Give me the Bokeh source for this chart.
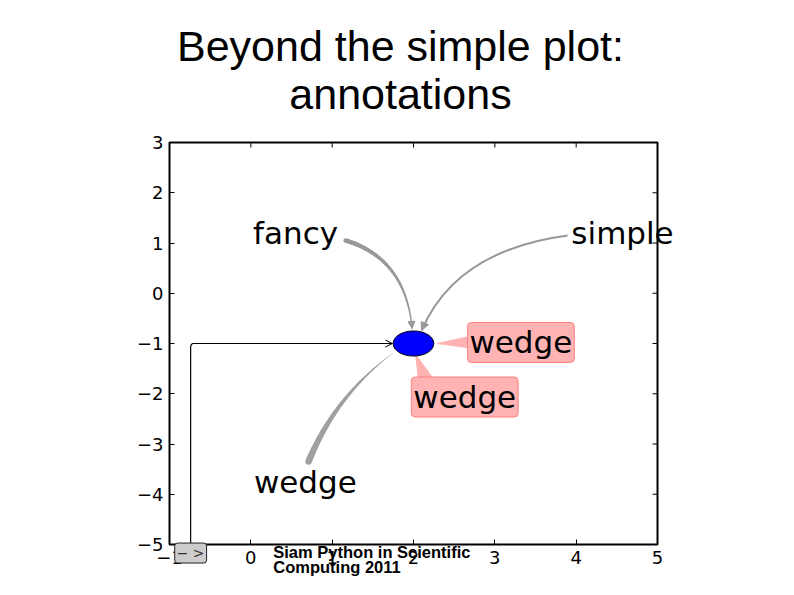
import numpy as np
from bokeh.plotting import figure
from bokeh.models import (Range1d, FixedTicker, Label, Arrow,
                          NormalHead, OpenHead, ColumnDataSource)
from bokeh.embed import file_html
from bokeh.resources import INLINE

# ---------------- data ----------------
x_ticks = [-1, 0, 1, 2, 3, 4, 5]
y_ticks = [-5, -4, -3, -2, -1, 0, 1, 2, 3]
plot_box_x = [-1, 5]
plot_box_y = [-5, 3]

ellipse_x = [2.0]
ellipse_y = [-1.0]
ellipse_w = [0.5]
ellipse_h = [0.5]

plain_labels = ["fancy", "simple", "wedge"]
plain_x = [0.55, 4.57, 0.67]
plain_y = [1.2, 1.2, -3.75]

boxed_labels = ["wedge", "wedge"]
boxed_x = [3.32, 2.63]
boxed_y = [-0.98, -2.065]

angle_label = "\u2212 >"
angle_xy = [-0.74, -5.17]

# arrow paths: start, control, end (data coordinates)
fancy_path = [[1.165, 1.05], [1.903, 0.692], [1.983, -0.70]]
simple_path = [[3.895, 1.149], [2.518, 0.851], [2.100, -0.741]]
wedge_path = [[0.710, -3.348], [1.042, -2.035], [1.743, -1.199]]
wedge_right_x = [2.293, 2.653, 2.653]
wedge_right_y = [-1.0, -0.871, -1.08]
wedge_low_x = [2.026, 2.063, 2.26]
wedge_low_y = [-1.219, -1.736, -1.736]
angle_path_x = [-0.74, -0.74, -0.73, -0.71, 1.74]
angle_path_y = [-5.02, -1.06, -1.015, -1.0, -1.0]

title_lines = ["Beyond the simple plot:", "annotations"]
title_x = 1.84
title_y = [4.93, 3.97]
footer_lines = ["Siam Python in Scientific", "Computing 2011"]
footer_x = 0.276
footer_y = [-5.14, -5.45]

# ---------------- layout (pixels) ----------------
W, H = 778, 579
BOX_L, BOX_R, BOX_T, BOX_B = 169, 657, 142, 544
sx = (BOX_R - BOX_L) / (plot_box_x[1] - plot_box_x[0])
sy = (BOX_B - BOX_T) / (plot_box_y[1] - plot_box_y[0])
x_start = plot_box_x[0] - BOX_L / sx
x_end = plot_box_x[1] + (W - BOX_R) / sx
y_end = plot_box_y[1] + BOX_T / sy
y_start = plot_box_y[0] - (H - BOX_B) / sy

p = figure(width=W, height=H, x_range=Range1d(x_start, x_end),
           y_range=Range1d(y_start, y_end),
           output_backend="svg", toolbar_location=None, min_border=0)
p.grid.visible = False
p.outline_line_color = None
p.background_fill_color = "white"
p.border_fill_color = "white"


def minus(v):
    return str(v).replace("-", "\u2212")


def style_axis(ax, ticks, loc):
    ax.fixed_location = loc
    ax.ticker = FixedTicker(ticks=ticks)
    ax.major_tick_in = 5
    ax.major_tick_out = 0
    ax.minor_tick_in = 0
    ax.minor_tick_out = 0
    ax.axis_line_color = None
    ax.major_tick_line_color = "black"
    ax.major_label_standoff = 6
    ax.major_label_text_font = "DejaVu Sans"
    ax.major_label_text_color = "black"
    ax.major_label_text_font_size = "18px"
    ax.major_label_overrides = {t: minus(t) for t in ticks}


style_axis(p.xaxis[0], x_ticks, plot_box_y[0])
style_axis(p.yaxis[0], y_ticks, plot_box_x[0])

# plot box and inward ticks on top / right
p.quad(left=[plot_box_x[0]], right=[plot_box_x[1]],
       bottom=[plot_box_y[0]], top=[plot_box_y[1]],
       fill_color=None, line_color="black", line_width=2)
tick_dx = 5 / sx
tick_dy = 5 / sy
p.segment(x0=x_ticks, y0=[plot_box_y[1]] * len(x_ticks),
          x1=x_ticks, y1=[plot_box_y[1] - tick_dy] * len(x_ticks),
          line_color="black", line_width=1)
p.segment(x0=[plot_box_x[1]] * len(y_ticks), y0=y_ticks,
          x1=[plot_box_x[1] - tick_dx] * len(y_ticks), y1=y_ticks,
          line_color="black", line_width=1)


def bez(path, n=40):
    t = np.linspace(0, 1, n)[:, None]
    p0, p1, p2 = (np.array(v) for v in path)
    return (1 - t) ** 2 * p0 + 2 * (1 - t) * t * p1 + t ** 2 * p2


def tapered(path, w0, w1, color, n=40):
    pts = bez(path, n)
    xs = [[pts[i, 0], pts[i + 1, 0]] for i in range(n - 1)]
    ys = [[pts[i, 1], pts[i + 1, 1]] for i in range(n - 1)]
    ws = list(np.linspace(w0, w1, n - 1))
    src = ColumnDataSource(dict(xs=xs, ys=ys, w=ws))
    p.multi_line(xs="xs", ys="ys", line_width="w", line_color=color,
                 line_cap="round", source=src)


gray = "#999999"
# fancy arrow (tapered)
tapered(fancy_path, 4.5, 1.2, gray)
p.add_layout(Arrow(end=NormalHead(size=7, fill_color=gray, line_color=gray),
                   x_start=fancy_path[1][0], y_start=fancy_path[1][1],
                   x_end=fancy_path[2][0], y_end=fancy_path[2][1], line_alpha=0))
# simple arrow
p.quadratic(x0=[simple_path[0][0]], y0=[simple_path[0][1]],
            x1=[simple_path[2][0]], y1=[simple_path[2][1]],
            cx=[simple_path[1][0]], cy=[simple_path[1][1]],
            line_color=gray, line_width=2)
p.add_layout(Arrow(end=NormalHead(size=8, fill_color=gray, line_color=gray),
                   x_start=simple_path[1][0], y_start=simple_path[1][1],
                   x_end=simple_path[2][0], y_end=simple_path[2][1], line_alpha=0))
# wedge arrow (tapered)
tapered(wedge_path, 6.5, 0.4, "#a0a0a0")

# pink wedges
pink = "#ffb3b3"
p.patches(xs=[wedge_right_x, wedge_low_x], ys=[wedge_right_y, wedge_low_y],
          fill_color=pink, line_color=pink, line_width=1)

# angle connector
p.line(angle_path_x, angle_path_y, line_color="black", line_width=1.2)
p.add_layout(Arrow(end=OpenHead(size=7, line_color="black", line_width=1),
                   x_start=angle_path_x[-2], y_start=angle_path_y[-2],
                   x_end=angle_path_x[-1], y_end=angle_path_y[-1], line_alpha=0))

# ellipse
p.ellipse(x=ellipse_x, y=ellipse_y, width=ellipse_w, height=ellipse_h,
          fill_color="blue", line_color="black", line_width=1)

# labels
for t, x, y in zip(plain_labels, plain_x, plain_y):
    p.add_layout(Label(x=x, y=y, text=t, text_font="DejaVu Sans",
                       text_font_size="31px", text_align="center",
                       text_baseline="middle", text_color="black"))
for t, x, y in zip(boxed_labels, boxed_x, boxed_y):
    p.add_layout(Label(x=x, y=y, text=t, text_font="DejaVu Sans",
                       text_font_size="31px", text_align="center",
                       text_baseline="middle", text_color="black",
                       background_fill_color=pink, border_line_color="#ff8080",
                       border_line_width=1, padding=2, border_radius=4))
p.add_layout(Label(x=angle_xy[0], y=angle_xy[1], text=angle_label,
                   text_font="DejaVu Sans", text_font_size="14px",
                   text_align="center", text_baseline="middle", text_color="#333333",
                   background_fill_color="#cccccc", border_line_color="#222222",
                   border_line_width=1, padding=2, border_radius=3))

# title and footer
for t, y in zip(title_lines, title_y):
    p.add_layout(Label(x=title_x, y=y, text=t, text_font="Liberation Sans",
                       text_font_size="43px", text_align="center",
                       text_baseline="middle", text_color="black"))
for t, y in zip(footer_lines, footer_y):
    p.add_layout(Label(x=footer_x, y=y, text=t, text_font="Liberation Sans",
                       text_font_size="16.5px", text_font_style="bold",
                       text_align="left", text_baseline="middle",
                       text_color="black"))

open("out.html", "w").write(file_html(p, INLINE))
